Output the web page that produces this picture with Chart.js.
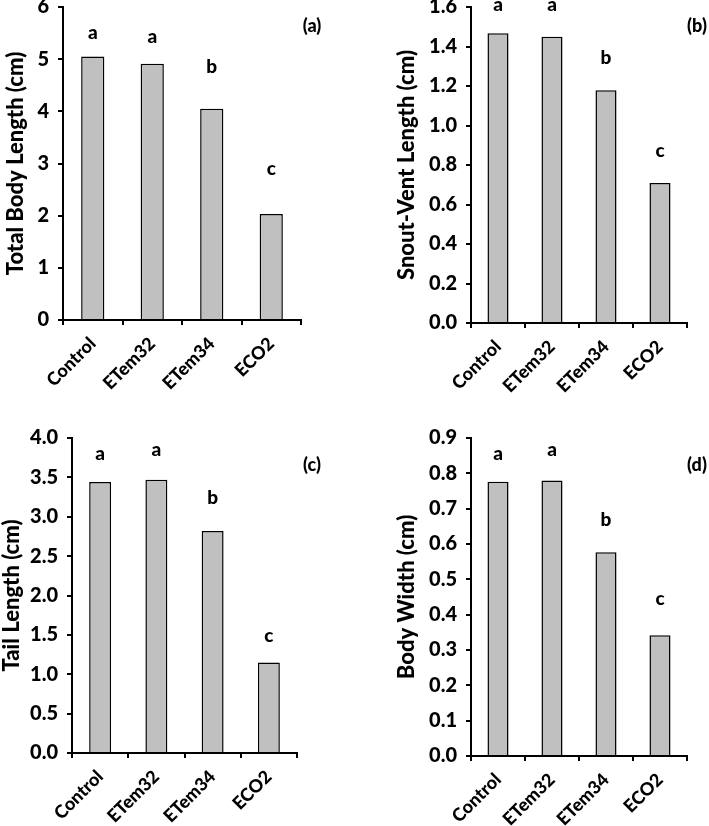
<!DOCTYPE html>
<html>
<head>
<meta charset="utf-8">
<script src="https://cdn.jsdelivr.net/npm/chart.js@4.4.1/dist/chart.umd.min.js"></script>
<style>
  html, body { margin: 0; padding: 0; background: #fff; }
  #wrap { position: relative; width: 709px; height: 826px; overflow: hidden; background: #fff; }
  canvas { position: absolute; }
</style>
</head>
<body>
<div id="wrap">
  <canvas id="cA" width="354" height="413" style="left:0;top:0"></canvas>
  <canvas id="cB" width="355" height="413" style="left:354px;top:0"></canvas>
  <canvas id="cC" width="354" height="413" style="left:0;top:413px"></canvas>
  <canvas id="cD" width="355" height="413" style="left:354px;top:413px"></canvas>
</div>
<script>
// ---- data ----
const categories = ['Control', 'ETem32', 'ETem34', 'ECO2'];

const totalBodyLength = [5.05, 4.91, 4.05, 2.03];
const snoutVentLength = [1.467, 1.45, 1.178, 0.709];
const tailLength = [3.44, 3.47, 2.82, 1.15];
const bodyWidth = [0.776, 0.780, 0.577, 0.342];

const groupLetters = ['a', 'a', 'b', 'c'];
const lettersYA = [5.5, 5.43, 4.86, 2.9];
const lettersYB = [1.61, 1.61, 1.34, 0.87];
const lettersYC = [3.80, 3.85, 3.24, 1.49];
const lettersYD = [0.855, 0.867, 0.668, 0.445];

const axisTitles = ['Total Body Length (cm)', 'Snout-Vent Length (cm)', 'Tail Length (cm)', 'Body Width (cm)'];
const panelTags = ['(a)', '(b)', '(c)', '(d)'];

const FONT = 'Lato, "Open Sans", sans-serif';
const W = '900';

function makeChart(id, values, letterY, yMax, yStep, decimals, title, tag, L) {
  const annot = {
    id: 'annot',
    afterDraw(chart) {
      const ctx = chart.ctx;
      const xs = chart.scales.x, ys = chart.scales.y;
      ctx.save();
      ctx.fillStyle = '#000';
      ctx.textAlign = 'center';
      ctx.textBaseline = 'middle';
      ctx.font = W + ' 19px ' + FONT;
      groupLetters.forEach((t, i) => {
        ctx.fillText(t, xs.getPixelForValue(i), ys.getPixelForValue(letterY[i]));
      });
      ctx.font = W + ' 18px ' + FONT;
      ctx.fillText(tag, L.tagX, L.tagY);
      // axis title
      ctx.translate(L.titleX, (chart.chartArea.top + chart.chartArea.bottom) / 2);
      ctx.rotate(-Math.PI / 2);
      ctx.font = W + ' 22px ' + FONT;
      ctx.fillText(title, 0, 0);
      ctx.restore();
    }
  };
  return new Chart(document.getElementById(id), {
    type: 'bar',
    data: {
      labels: categories,
      datasets: [{
        data: values,
        backgroundColor: '#c0c0c0',
        borderColor: '#000',
        borderWidth: 1.5,
        barPercentage: 0.39,
        categoryPercentage: 1.0
      }]
    },
    options: {
      responsive: false,
      animation: false,
      devicePixelRatio: 1,
      layout: { padding: { left: 0, top: L.top, right: L.right, bottom: 0 } },
      plugins: { legend: { display: false }, tooltip: { enabled: false } },
      scales: {
        x: {
          grid: { display: true, drawOnChartArea: false, offset: true, tickLength: 5, color: '#000', lineWidth: 2 },
          border: { display: true, color: '#000', width: 2 },
          ticks: {
            color: '#000', autoSkip: false, minRotation: 45, maxRotation: 45, padding: 8,
            font: { family: FONT, size: 18, weight: W }
          },
          afterFit(s) { s.height = L.xH; s.paddingLeft = 0; s.paddingRight = 0; }
        },
        y: {
          min: 0, max: yMax,
          grid: { display: true, drawOnChartArea: false, tickLength: 5, color: '#000', lineWidth: 2 },
          border: { display: true, color: '#000', width: 2 },
          ticks: {
            stepSize: yStep, color: '#000', padding: 9,
            font: { family: FONT, size: 20, weight: W },
            callback: v => Number(v).toFixed(decimals)
          },
          afterFit(s) { s.width = L.yW; s.paddingTop = 0; s.paddingBottom = 0; }
        }
      }
    },
    plugins: [annot]
  });
}

makeChart('cA', totalBodyLength, lettersYA, 6, 1, 0, axisTitles[0], panelTags[0],
  { top: 7, right: 53, xH: 93, yW: 63, titleX: 16, tagX: 312, tagY: 26 });
makeChart('cB', snoutVentLength, lettersYB, 1.6, 0.2, 1, axisTitles[1], panelTags[1],
  { top: 7, right: 22, xH: 90, yW: 117, titleX: 53, tagX: 343, tagY: 26 });
makeChart('cC', tailLength, lettersYC, 4.0, 0.5, 1, axisTitles[2], panelTags[2],
  { top: 25, right: 57, xH: 73, yW: 72, titleX: 12, tagX: 312, tagY: 52 });
makeChart('cD', bodyWidth, lettersYD, 0.9, 0.1, 1, axisTitles[3], panelTags[3],
  { top: 25, right: 22, xH: 70, yW: 117, titleX: 53, tagX: 343, tagY: 52 });
</script>
</body>
</html>
